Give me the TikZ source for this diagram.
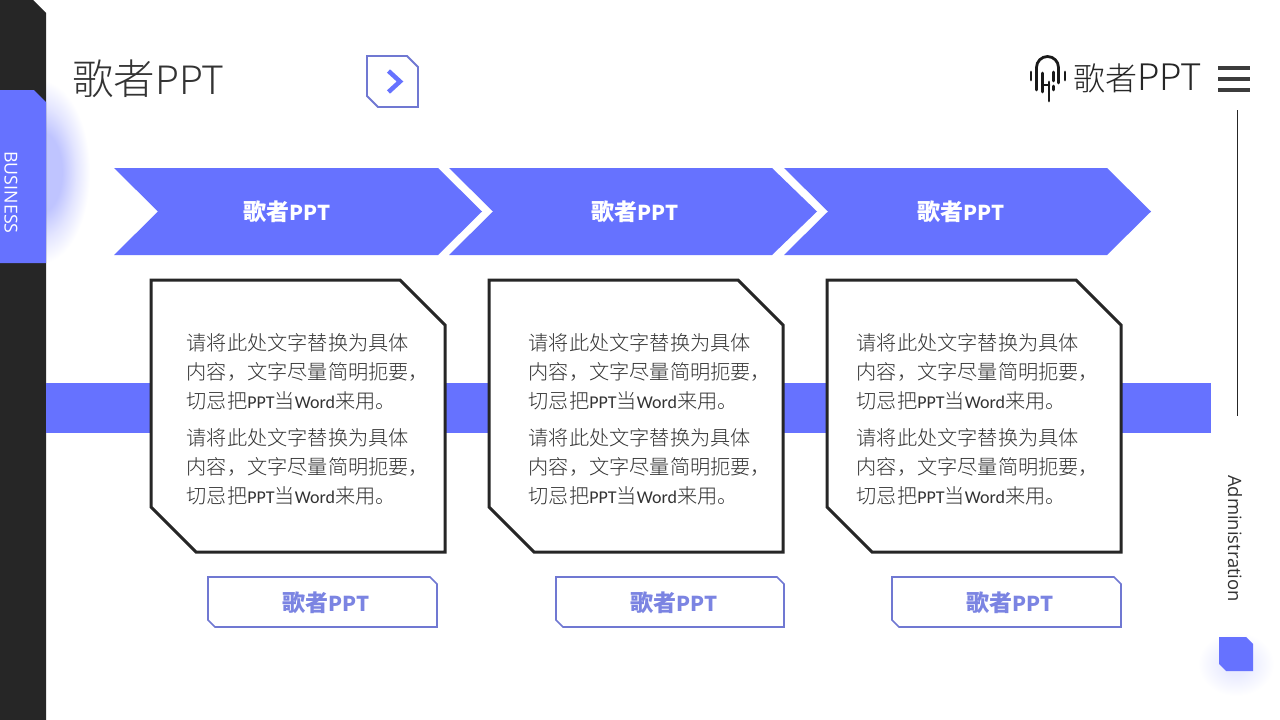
\documentclass[tikz,border=0pt]{standalone}
\usepackage{fontspec}
\setmainfont{Noto Sans CJK SC}
\newfontfamily\lightcjk{Noto Sans CJK SC Light}
\newfontfamily\latinf{Open Sans}
\newfontfamily\narrowf{Carlito}
\definecolor{accent}{HTML}{6672FF}
\definecolor{ink}{HTML}{262626}
\definecolor{outl}{HTML}{7078D2}
\definecolor{outt}{HTML}{7B84E2}
\definecolor{txt}{HTML}{333333}
\definecolor{glowA}{HTML}{BFC4FF}
\definecolor{glowB}{HTML}{E3E5FF}
\definecolor{glowC}{HTML}{E9EBFF}
\pgfdeclareradialshading{tabglow}{\pgfpoint{0bp}{0bp}}{color(0bp)=(glowA); color(11bp)=(glowA); color(18bp)=(glowB); color(25bp)=(white); color(50bp)=(white)}
\pgfdeclareradialshading{squareglow}{\pgfpoint{0bp}{0bp}}{color(0bp)=(glowC); color(8bp)=(glowC); color(25bp)=(white); color(50bp)=(white)}
\newcommand{\fs}[1]{\fontsize{#1}{#1}\selectfont}
\newcommand{\bodytext}{\lightcjk\fs{20.2}\setlength{\baselineskip}{29pt}}
\newcommand{\nl}[1]{{\narrowf\fs{18}#1}}
\newcommand{\boldlabel}{歌者{\fs{20.5}PPT}}
\tikzset{
 x=1pt,y=-1pt,
 chev/.style={fill=accent,draw=none},
 chevtext/.style={text=white,font=\fs{23}\bfseries,inner sep=0},
 card/.style={draw=ink,line width=3pt,fill=white,line join=miter},
 para/.style={anchor=north west,inner sep=0,align=left,text=txt,font=\bodytext},
 tagbox/.style={draw=outl,line width=1.6pt,fill=white},
 tagtext/.style={text=outt,font=\fs{23}\bfseries,inner sep=0},
}
\newcommand{\cardblock}[4]{%
 \draw[card] (#1,280)--(#1+249,280)--(#1+294,325)--(#1+294,552)--(#1+45,552)--(#1,507)--cycle;
 \node[para] at (#2,333) {请将此处文字替换为具体\\内容，文字尽量简明扼要，\\切忌把\nl{PPT}当\nl{Word}来用。};
 \node[para] at (#2,428) {请将此处文字替换为具体\\内容，文字尽量简明扼要，\\切忌把\nl{PPT}当\nl{Word}来用。};
 \draw[tagbox] (#3,577)--(#4-7,577)--(#4,584)--(#4,627)--(#3+7,627)--(#3,620)--cycle;
}
\begin{document}
\begin{tikzpicture}
\useasboundingbox (0,0) rectangle (1280,720);
\fill[white] (0,0) rectangle (1280,720);
% glow beside blue tab
\shade[shading=tabglow] (40,172) ellipse [x radius=50,y radius=92];
% glow under small square
\shade[shading=squareglow] (1236,664) ellipse [x radius=38,y radius=32];
% sidebar
\fill[ink] (0,0)--(33,0)--(46,13)--(46,720)--(0,720)--cycle;
\fill[accent] (0,90)--(34,90)--(46,102)--(46,263)--(0,263)--cycle;
\node[text=white,rotate=-90,font=\latinf\fs{17.8},inner sep=0] (biz) at (11,192.5) {BUSINESS};
% title
\node[anchor=west,inner sep=0,text=txt,font=\lightcjk\fs{41.5}] (title) at (72,79) {歌者{\fs{39}PPT}};
\draw[tagbox,line width=1.8pt] (367,56)--(407,56)--(418,67)--(418,107)--(378,107)--(367,96)--cycle;
\draw[accent,line width=4.5pt] (388.5,71)--(400,81.5)--(388.5,92);
% logo
\begin{scope}[line width=2.8pt,black!90,line cap=round]
 \draw (1031,72)--(1031,80);
 \draw (1036.5,90)--(1036.5,67.5) arc[start angle=180,end angle=0,x radius=11,y radius=-11]--(1058.5,83);
 \draw (1042.5,73)--(1042.5,92);
 \draw (1042.5,85)--(1049,85);
 \draw (1049,82)--(1049,101);
 \draw (1053.5,72)--(1053.5,81);
 \draw (1053.5,86)--(1053.5,90);
 \draw (1065,72)--(1065,80);
\end{scope}
\node[anchor=west,inner sep=0,text=ink,font=\lightcjk\fs{32}] (logotext) at (1073,78) {歌者{\fs{36.5}PPT}};
\foreach \yy in {68,79,90}{\fill[ink!90!white] (1218,\yy-2) rectangle (1250,\yy+2);}
% right rule
\coordinate (ruleA) at (1237,110);
\coordinate (ruleB) at (1237,416);
\draw[ink,line width=1pt] (ruleA)--(ruleB);
\node[text=txt,rotate=-90,font=\latinf\fs{18.4},inner sep=0] (admin) at (1235,538.5) {Administration};
\fill[accent] (1219,637)--(1246,637)--(1253,644)--(1253,671)--(1226,671)--(1219,664)--cycle;
% chevrons
\fill[chev] (114,168)--(438,168)--(482,211.5)--(438,255)--(114,255)--(158,211.5)--cycle;
\fill[chev] (449,168)--(772,168)--(817,211.5)--(772,255)--(449,255)--(493,211.5)--cycle;
\fill[chev] (784,168)--(1107,168)--(1151,211.5)--(1107,255)--(784,255)--(828,211.5)--cycle;
\node[chevtext] (c1) at (287,212) {\boldlabel};
\node[chevtext] (c2) at (635,212) {\boldlabel};
\node[chevtext] (c3) at (961,212) {\boldlabel};
% band
\fill[accent] (46,383) rectangle (1211,432.5);
% cards
\cardblock{151}{186.5}{208}{437}
\cardblock{489}{528.5}{556}{784}
\cardblock{827}{856.5}{892}{1121}
\node[tagtext] (t1) at (326,603) {\boldlabel};
\node[tagtext] (t2) at (674,603) {\boldlabel};
\node[tagtext] (t3) at (1010,603) {\boldlabel};
\end{tikzpicture}
\end{document}
